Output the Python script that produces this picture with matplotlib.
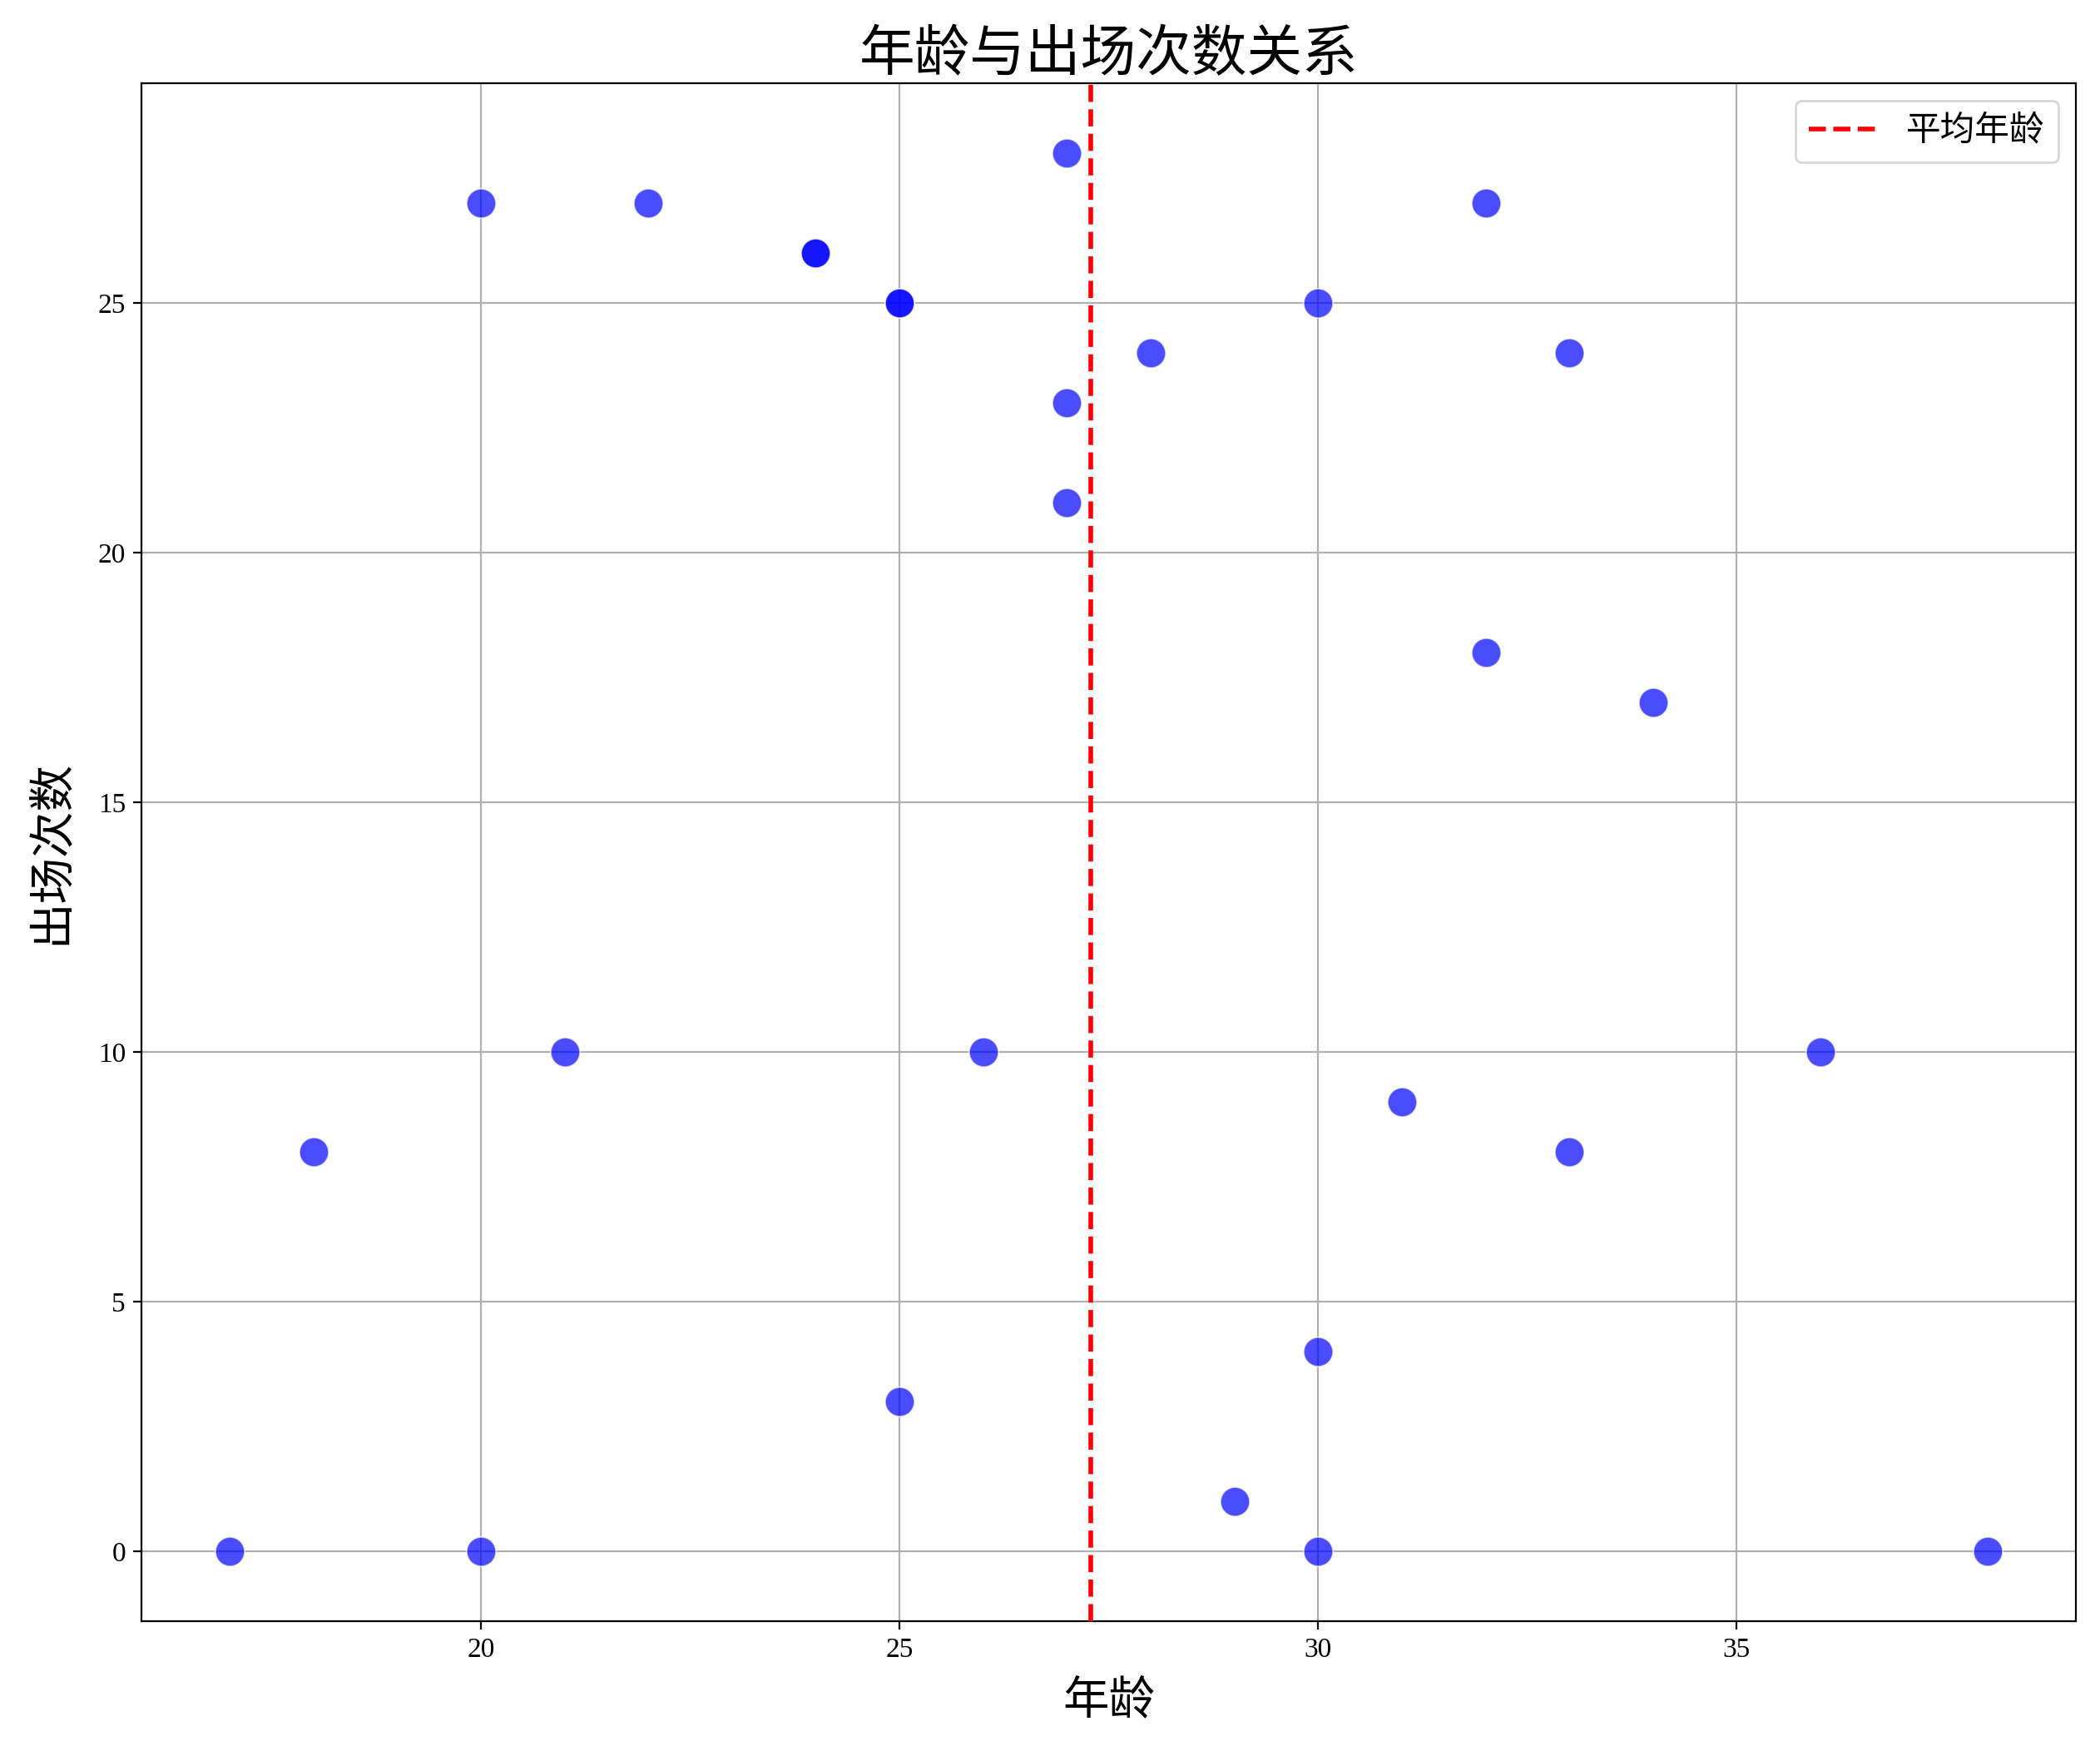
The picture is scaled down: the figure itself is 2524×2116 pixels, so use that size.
import matplotlib
matplotlib.use('Agg')
import matplotlib.pyplot as plt
import numpy as np

plt.rcParams['font.family'] = ['Noto Sans CJK SC', 'DejaVu Sans']

# 球员年龄与出场次数
ages = [17, 18, 20, 20, 21, 22, 24, 24, 25, 25, 25, 26, 27, 27,
        27, 28, 29, 30, 30, 30, 31, 32, 32, 33, 33, 34, 36, 38]
apps = [0, 8, 27, 0, 10, 27, 26, 26, 25, 25, 3, 10, 28, 23,
        21, 24, 1, 25, 4, 0, 9, 27, 18, 24, 8, 17, 10, 0]

fig = plt.figure(figsize=(12.62, 10.58), dpi=200)
ax = fig.add_axes([0.0675, 0.0794, 0.921, 0.8733])

ax.scatter(ages, apps, s=160, c='blue', alpha=0.7, edgecolors='w', linewidths=0.6, zorder=3)
ax.axvline(np.mean(ages), color='red', linestyle='--', linewidth=2, label='平均年龄', zorder=4)

ax.set_title('年龄与出场次数关系', fontsize=24, pad=4)
ax.set_xlabel('年龄', fontsize=20, labelpad=6)
ax.set_ylabel('出场次数', fontsize=20, labelpad=10)
ax.grid(True)
ax.legend(loc='upper right', fontsize=15)

for lab in ax.get_xticklabels() + ax.get_yticklabels():
    lab.set_family(['Liberation Serif', 'DejaVu Serif'])
    lab.set_fontsize(12)

fig.savefig('out.png', dpi=200)
